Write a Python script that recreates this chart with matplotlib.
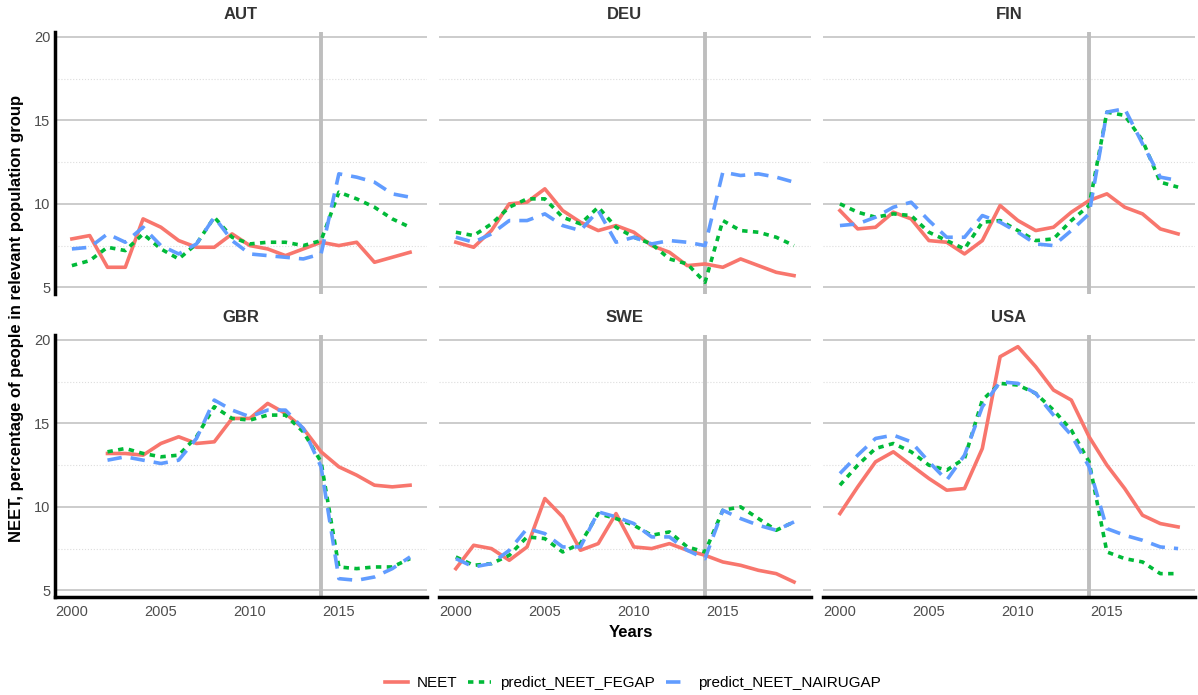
import matplotlib
matplotlib.use("Agg")
import matplotlib.pyplot as plt
import numpy as np

plt.rcParams['font.family'] = ['Liberation Sans', 'DejaVu Sans']

years = list(range(2000, 2020))
countries = ["AUT", "DEU", "FIN", "GBR", "SWE", "USA"]

# NEET
aut_neet = [7.9, 8.1, 6.2, 6.2, 9.1, 8.6, 7.8, 7.4, 7.4, 8.2, 7.5, 7.3, 6.9, 7.3, 7.7, 7.5, 7.7, 6.5, 6.8, 7.1]
aut_fegap = [6.3, 6.6, 7.4, 7.2, 8.2, 7.3, 6.7, 7.6, 9.2, 8.0, 7.6, 7.7, 7.7, 7.5, 7.8, 10.7, 10.3, 9.8, 9.1, 8.6]
aut_nairu = [7.3, 7.4, 8.2, 7.7, 8.6, 7.5, 7.0, 7.6, 9.2, 7.8, 7.0, 6.9, 6.8, 6.7, 7.0, 11.8, 11.6, 11.3, 10.6, 10.4]

deu_neet = [7.7, 7.4, 8.4, 10.0, 10.1, 10.9, 9.6, 8.9, 8.4, 8.7, 8.3, 7.5, 7.1, 6.3, 6.4, 6.2, 6.7, 6.3, 5.9, 5.7]
deu_fegap = [8.3, 8.1, 8.8, 9.8, 10.3, 10.3, 9.2, 8.8, 9.8, 8.6, 8.0, 7.6, 6.7, 6.4, 5.3, 9.0, 8.4, 8.3, 8.0, 7.5]
deu_nairu = [8.0, 7.7, 8.2, 9.0, 9.0, 9.4, 8.7, 8.4, 9.6, 7.7, 8.0, 7.6, 7.8, 7.7, 7.5, 11.9, 11.7, 11.8, 11.6, 11.3]

fin_neet = [9.6, 8.5, 8.6, 9.5, 9.1, 7.8, 7.7, 7.0, 7.8, 9.9, 9.0, 8.4, 8.6, 9.5, 10.2, 10.6, 9.8, 9.4, 8.5, 8.2]
fin_fegap = [10.0, 9.5, 9.2, 9.4, 9.3, 8.3, 7.8, 7.3, 8.9, 9.0, 8.4, 7.8, 7.9, 9.0, 9.9, 15.5, 15.3, 13.8, 11.3, 11.0]
fin_nairu = [8.7, 8.8, 9.2, 9.8, 10.1, 9.0, 8.0, 8.0, 9.3, 8.9, 8.3, 7.6, 7.5, 8.4, 9.4, 15.5, 15.7, 13.6, 11.6, 11.4]

gbr_neet = [np.nan, np.nan, 13.2, 13.2, 13.1, 13.8, 14.2, 13.8, 13.9, 15.3, 15.3, 16.2, 15.6, 14.7, 13.3, 12.4, 11.9, 11.3, 11.2, 11.3]
gbr_fegap = [np.nan, np.nan, 13.3, 13.5, 13.2, 13.0, 13.1, 14.2, 16.0, 15.3, 15.2, 15.5, 15.5, 14.5, 12.7, 6.4, 6.3, 6.4, 6.4, 6.9]
gbr_nairu = [np.nan, np.nan, 12.8, 13.0, 12.8, 12.6, 12.8, 14.1, 16.4, 15.8, 15.4, 15.8, 15.8, 14.7, 12.4, 5.7, 5.6, 5.8, 6.3, 7.0]

swe_neet = [6.3, 7.7, 7.5, 6.8, 7.6, 10.5, 9.4, 7.4, 7.8, 9.6, 7.6, 7.5, 7.8, 7.4, 7.1, 6.7, 6.5, 6.2, 6.0, 5.5]
swe_fegap = [7.0, 6.5, 6.6, 7.1, 8.2, 8.1, 7.3, 7.8, 9.6, 9.3, 8.9, 8.3, 8.5, 7.6, 7.3, 9.8, 10.0, 9.3, 8.6, 9.1]
swe_nairu = [6.9, 6.4, 6.6, 7.4, 8.7, 8.4, 7.6, 7.6, 9.7, 9.4, 9.0, 8.2, 8.2, 7.4, 6.9, 9.8, 9.3, 8.9, 8.6, 9.1]

usa_neet = [9.6, 11.2, 12.7, 13.3, 12.5, 11.7, 11.0, 11.1, 13.5, 19.0, 19.6, 18.4, 17.0, 16.4, 14.2, 12.5, 11.1, 9.5, 9.0, 8.8]
usa_fegap = [11.3, 12.5, 13.5, 13.8, 13.3, 12.5, 12.2, 12.9, 16.4, 17.4, 17.3, 16.8, 15.8, 14.6, 12.7, 7.3, 6.9, 6.7, 6.0, 6.0]
usa_nairu = [12.0, 13.1, 14.1, 14.3, 13.9, 12.7, 11.6, 13.1, 16.0, 17.5, 17.4, 16.8, 15.5, 14.3, 12.4, 8.7, 8.3, 8.0, 7.6, 7.5]

neet = [aut_neet, deu_neet, fin_neet, gbr_neet, swe_neet, usa_neet]
fegap = [aut_fegap, deu_fegap, fin_fegap, gbr_fegap, swe_fegap, usa_fegap]
nairu = [aut_nairu, deu_nairu, fin_nairu, gbr_nairu, swe_nairu, usa_nairu]

fig = plt.figure(figsize=(11.98, 6.95), dpi=100)

lefts = [0.0459, 0.3664, 0.6870]
bottoms = [0.577, 0.141]
w, h = 0.3105, 0.377

for i, c in enumerate(countries):
    row, col = divmod(i, 3)
    ax = fig.add_axes([lefts[col], bottoms[row], w, h])
    ax.set_xlim(1999.05, 2019.95)
    ax.set_ylim(4.6, 20.3)
    ax.set_yticks([5, 10, 15, 20])
    ax.set_yticks([7.5, 12.5, 17.5], minor=True)
    ax.set_xticks([2000, 2005, 2010, 2015])
    ax.grid(True, which="major", axis="y", color="#c8c8c8", lw=1.3)
    ax.grid(True, which="minor", axis="y", color="#dddddd", lw=0.8, ls=":")
    ax.set_axisbelow(True)
    ax.axvline(2014, color="#bebebe", lw=2.8, zorder=1)

    ax.plot(years, neet[i], color="#F8766D", lw=2.6, label="NEET", zorder=3)
    ax.plot(years, fegap[i], color="#00BA38", lw=2.6, ls=(0, (1.5, 1.5)),
            label="predict_NEET_FEGAP", zorder=3)
    ax.plot(years, nairu[i], color="#619CFF", lw=2.6, ls=(0, (4, 2.5)),
            label="predict_NEET_NAIRUGAP", zorder=3)

    ax.set_title(c, fontsize=12, fontweight="bold", color="#333333", pad=9)
    for s in ax.spines.values():
        s.set_visible(False)
    ax.tick_params(which="both", length=0, labelsize=10.5, labelcolor="#4d4d4d")
    ax.tick_params(axis="x", pad=6)
    if col == 0:
        ax.spines["left"].set_visible(True)
        ax.spines["left"].set_linewidth(2.5)
        ax.spines["left"].set_color("black")
    else:
        ax.set_yticklabels([])
    if row == 1:
        ax.spines["bottom"].set_visible(True)
        ax.spines["bottom"].set_linewidth(2.5)
        ax.spines["bottom"].set_color("black")
    else:
        ax.set_xticklabels([])

fig.text(0.014, 0.542, "NEET, percentage of people in relevant population group",
         rotation=90, ha="center", va="center", fontsize=12, fontweight="bold")
fig.text(0.527, 0.09, "Years", ha="center", va="center", fontsize=12, fontweight="bold")

handles, labels = ax.get_legend_handles_labels()
fig.legend(handles, labels, loc="center", bbox_to_anchor=(0.528, 0.017), ncol=3,
           frameon=False, fontsize=11, handlelength=1.5, handletextpad=0.6,
           columnspacing=0.7)

fig.savefig("out.png", dpi=100)
